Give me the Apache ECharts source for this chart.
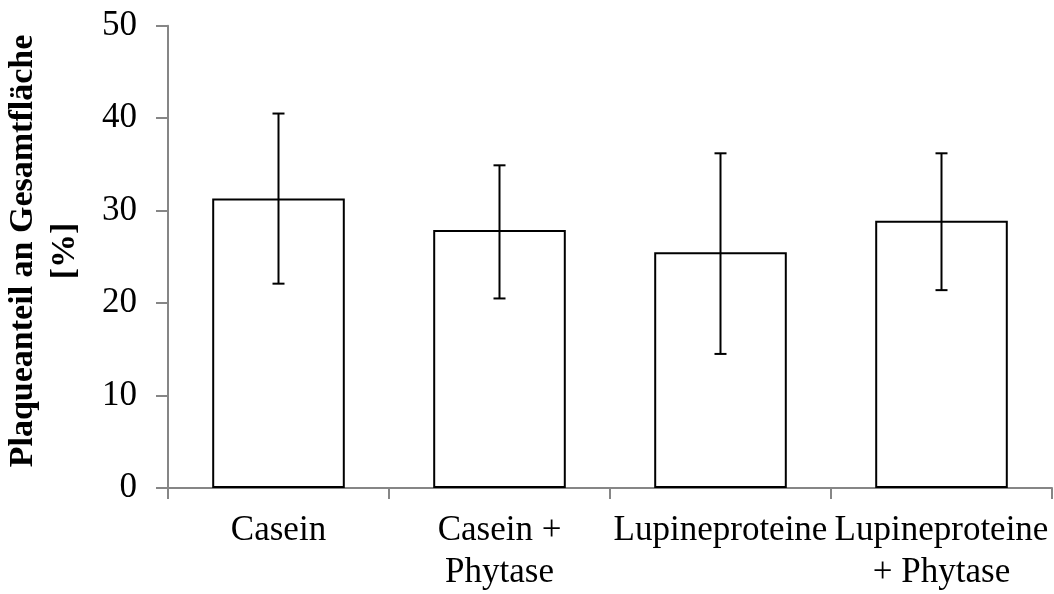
<!DOCTYPE html>
<html>
<head>
<meta charset="utf-8">
<script src="https://cdn.jsdelivr.net/npm/echarts@6/dist/echarts.min.js"></script>
<style>
html,body{margin:0;padding:0;background:#fff;}
#c{width:1054px;height:594px;}
</style>
</head>
<body>
<div id="c"></div>
<script>
var categories = ['Casein', 'Casein +\nPhytase', 'Lupineproteine', 'Lupineproteine\n+ Phytase'];
var values = [31.3, 27.9, 25.5, 28.9];
var errLow = [22.1, 20.5, 14.5, 21.4];
var errHigh = [40.5, 34.9, 36.2, 36.2];
var yTicks = [0, 10, 20, 30, 40, 50];

var chart = echarts.init(document.getElementById('c'), null, {renderer: 'canvas'});
var FONT = 'Liberation Serif';
var errData = categories.map(function (c, i) { return [i, errLow[i], errHigh[i]]; });

chart.setOption({
  animation: false,
  backgroundColor: '#ffffff',
  grid: {left: 168, right: 2, top: 25.7, bottom: 102.3, containLabel: false},
  xAxis: {
    type: 'category',
    data: categories,
    axisLine: {lineStyle: {color: '#868686', width: 2}},
    axisTick: {show: true, length: 11, alignWithLabel: false, lineStyle: {color: '#868686', width: 2}},
    axisLabel: {interval: 0, color: '#000', fontFamily: FONT, fontSize: 35, lineHeight: 42, margin: 22}
  },
  yAxis: {
    type: 'value',
    min: yTicks[0],
    max: yTicks[yTicks.length - 1],
    interval: 10,
    splitLine: {show: false},
    axisLine: {show: true, lineStyle: {color: '#868686', width: 2}},
    axisTick: {show: true, length: 12, lineStyle: {color: '#868686', width: 2}},
    axisLabel: {color: '#000', fontFamily: FONT, fontSize: 35, margin: 31}
  },
  graphic: [{
    type: 'text',
    x: 44,
    y: 251,
    rotation: Math.PI / 2,
    style: {
      text: 'Plaqueanteil an Gesamtfläche\n[%]',
      fontFamily: FONT,
      fontWeight: 'bold',
      fontSize: 34,
      lineHeight: 42,
      fill: '#000',
      align: 'center',
      verticalAlign: 'middle'
    }
  }],
  series: [{
    type: 'bar',
    data: values,
    barWidth: '60%',
    itemStyle: {color: '#ffffff', borderColor: '#000000', borderWidth: 2}
  }, {
    type: 'custom',
    data: errData,
    z: 10,
    renderItem: function (params, api) {
      var x = api.value(0);
      var lo = api.coord([x, api.value(1)]);
      var hi = api.coord([x, api.value(2)]);
      var hw = 6;
      var st = {stroke: '#000', lineWidth: 2};
      return {
        type: 'group',
        children: [
          {type: 'line', shape: {x1: hi[0], y1: hi[1], x2: lo[0], y2: lo[1]}, style: st},
          {type: 'line', shape: {x1: hi[0] - hw, y1: hi[1], x2: hi[0] + hw, y2: hi[1]}, style: st},
          {type: 'line', shape: {x1: lo[0] - hw, y1: lo[1], x2: lo[0] + hw, y2: lo[1]}, style: st}
        ]
      };
    }
  }]
});
</script>
</body>
</html>
